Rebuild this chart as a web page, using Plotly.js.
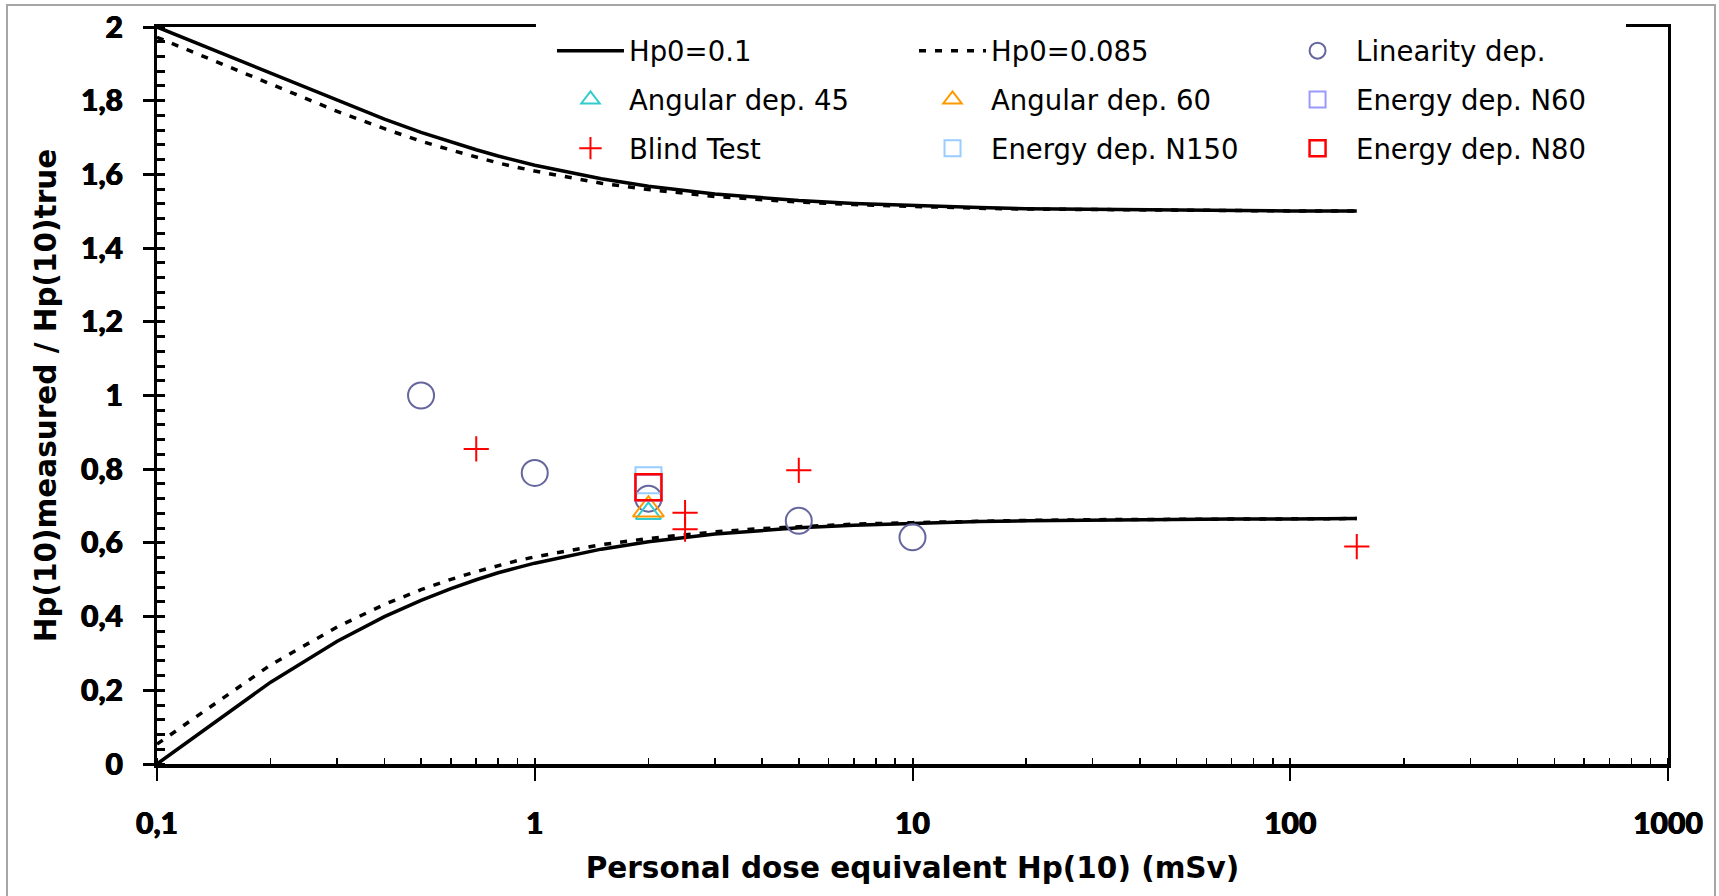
<!DOCTYPE html>
<html>
<head>
<meta charset="utf-8">
<script src="https://cdn.plot.ly/plotly-3.0.1.min.js"></script>
<style>
  html, body { margin: 0; padding: 0; background: #ffffff; overflow: hidden; }
  #chart { width: 1719px; height: 896px; position: absolute; left: 0; top: 0; }
  #frame { position: absolute; left: 6px; top: 4px; width: 1706px; height: 1000px;
           border: 2px solid #a6a6a6; pointer-events: none; }
</style>
</head>
<body>
<div id="chart"></div>
<div id="frame"></div>
<script>
// ---- data ----
const doseGrid = [0.1, 0.2, 0.3, 0.4, 0.5, 0.6, 0.7, 0.8, 0.9, 1, 1.5, 2, 3, 4, 5, 7, 10, 15, 20, 30, 50, 70, 100, 150];

const upperHp01  = [2.000, 1.875, 1.800, 1.750, 1.714, 1.688, 1.667, 1.650, 1.636, 1.625, 1.588, 1.568, 1.547, 1.536, 1.529, 1.521, 1.515, 1.510, 1.507, 1.505, 1.503, 1.502, 1.501, 1.501];
const lowerHp01  = [0.000, 0.222, 0.333, 0.400, 0.444, 0.476, 0.500, 0.519, 0.533, 0.545, 0.583, 0.603, 0.624, 0.634, 0.641, 0.648, 0.653, 0.658, 0.660, 0.662, 0.664, 0.665, 0.665, 0.666];
const upperHp085 = [1.972, 1.845, 1.771, 1.724, 1.690, 1.666, 1.647, 1.631, 1.619, 1.609, 1.576, 1.559, 1.540, 1.531, 1.525, 1.518, 1.513, 1.508, 1.506, 1.504, 1.503, 1.502, 1.501, 1.501];
const lowerHp085 = [0.054, 0.269, 0.372, 0.433, 0.473, 0.501, 0.522, 0.539, 0.552, 0.562, 0.595, 0.612, 0.630, 0.639, 0.644, 0.651, 0.655, 0.659, 0.661, 0.663, 0.664, 0.665, 0.666, 0.666];

const linearityX = [0.5, 1, 2, 5, 10];
const linearityY = [1.00, 0.79, 0.72, 0.66, 0.615];
const angular45X = [2];
const angular45Y = [0.68];
const angular60X = [2];
const angular60Y = [0.69];
const energyN60X = [2];
const energyN60Y = [0.75];
const blindX = [0.7, 2.5, 2.5, 5, 150];
const blindY = [0.855, 0.682, 0.637, 0.797, 0.59];
const energyN150X = [2];
const energyN150Y = [0.77];
const energyN80X = [2];
const energyN80Y = [0.751];

const xTickVals = [0.1, 1, 10, 100, 1000];
const xTickText = ['0,1', '1', '10', '100', '1000'];
const yTickVals = [0, 0.2, 0.4, 0.6, 0.8, 1, 1.2, 1.4, 1.6, 1.8, 2];
const yTickText = ['0', '0,2', '0,4', '0,6', '0,8', '1', '1,2', '1,4', '1,6', '1,8', '2'];

// ---- traces ----
const band = (up, lo) => ({ x: doseGrid.concat([null], doseGrid), y: up.concat([null], lo) });
const b1 = band(upperHp01, lowerHp01);
const b2 = band(upperHp085, lowerHp085);

function pts(name, x, y, symbol, color, size, lw, legend, grp) {
  return { type: 'scatter', mode: 'markers', name: name, x: x, y: y,
    legend: legend, legendgroup: grp, hoverinfo: 'x+y+name',
    marker: { symbol: symbol, color: color, size: size, line: { color: color, width: lw } } };
}

const traces = [
  { type: 'scatter', mode: 'lines', name: 'Hp0=0.1', x: b1.x, y: b1.y, connectgaps: false,
    legend: 'legend', legendgroup: 'g1', line: { color: '#000000', width: 3.5 } },
  { type: 'scatter', mode: 'lines', name: 'Hp0=0.085', x: b2.x, y: b2.y, connectgaps: false,
    legend: 'legend2', legendgroup: 'g2', line: { color: '#000000', width: 3.5, dash: '7px,9px' } },
  pts('Linearity dep.', linearityX, linearityY, 'circle-open', '#66669e', 26, 2, 'legend3', 'g3'),
  pts('Angular dep. 45', angular45X, angular45Y, 'triangle-up-open', '#33cccc', 22, 2, 'legend', 'g4'),
  pts('Angular dep. 60', angular60X, angular60Y, 'triangle-up-open', '#ff9900', 27, 2, 'legend2', 'g5'),
  pts('Energy dep. N60', energyN60X, energyN60Y, 'square-open', '#9999ff', 26, 2, 'legend3', 'g6'),
  pts('Blind Test', blindX, blindY, 'cross-thin-open', '#ff0000', 18, 2, 'legend', 'g7'),
  pts('Energy dep. N150', energyN150X, energyN150Y, 'square-open', '#99ccff', 26, 2, 'legend2', 'g8'),
  pts('Energy dep. N80', energyN80X, energyN80Y, 'square-open', '#ff0000', 26, 2.5, 'legend3', 'g9'),
  { type: 'scatter', mode: 'markers', x: [], y: [], xaxis: 'x2', yaxis: 'y2', showlegend: false, hoverinfo: 'skip' }
];

const legendFont = { family: 'DejaVu Sans', size: 27.5, color: '#000000' };
function legendAt(x) {
  return { x: x, y: 1.001, xanchor: 'left', yanchor: 'top', orientation: 'v',
    traceorder: 'grouped', tracegroupgap: 10, itemwidth: 67, font: legendFont,
    bgcolor: 'rgba(255,255,255,0)', borderwidth: 0 };
}

const tickFont = { family: 'Lato', size: 30, color: '#000000', weight: 900,
  shadow: '0.5px 0 0 #000000, -0.5px 0 0 #000000' };
const titleFont = { family: 'DejaVu Sans', size: 29.5, color: '#000000', weight: 'bold' };

const layout = {
  width: 1719, height: 896,
  margin: { l: 157, r: 51, t: 27, b: 132 },
  paper_bgcolor: '#ffffff', plot_bgcolor: '#ffffff',
  showlegend: true,
  legend: legendAt(0.2614),
  legend2: legendAt(0.501),
  legend3: legendAt(0.7426),
  xaxis: {
    type: 'log', range: [-1, 3], tickvals: xTickVals, ticktext: xTickText,
    ticks: 'outside', ticklen: 13, tickwidth: 2, tickcolor: '#000000',
    minor: { dtick: 'D1', ticks: 'inside', ticklen: 6, tickwidth: 1.5, tickcolor: '#000000', showgrid: false },
    showline: true, linewidth: 3.5, linecolor: '#000000', mirror: true,
    showgrid: false, zeroline: false, tickfont: tickFont, ticklabelstandoff: 17,
    title: { text: 'Personal dose equivalent Hp(10) (mSv)', font: titleFont, standoff: 20 },
    automargin: false
  },
  yaxis: {
    range: [0, 2], tickvals: yTickVals, ticktext: yTickText,
    ticks: 'outside', ticklen: 11, tickwidth: 3, tickcolor: '#000000',
    minor: { dtick: 0.04, ticks: 'inside', ticklen: 8, tickwidth: 3, tickcolor: '#000000', showgrid: false },
    showline: true, linewidth: 3, linecolor: '#000000', mirror: true,
    showgrid: false, zeroline: false, tickfont: tickFont, ticklabelstandoff: 14,
    title: { text: 'Hp(10)measured / Hp(10)true', font: titleFont, standoff: 16 },
    automargin: false
  },
  xaxis2: {
    type: 'log', range: [-1, 3], overlaying: 'x', anchor: 'y2', side: 'bottom',
    tickvals: xTickVals, ticks: 'inside', ticklen: 6, tickwidth: 2, tickcolor: '#000000',
    showticklabels: false, showline: false, showgrid: false, zeroline: false
  },
  yaxis2: {
    range: [0, 2], overlaying: 'y', anchor: 'x2', side: 'left',
    tickvals: yTickVals, ticks: 'inside', ticklen: 8, tickwidth: 3, tickcolor: '#000000',
    showticklabels: false, showline: false, showgrid: false, zeroline: false
  },
  shapes: [
    { type: 'rect', layer: 'above', xref: 'paper', yref: 'paper',
      x0: 0.2508, x1: 0.9722, y0: 0.985, y1: 1.02,
      fillcolor: '#ffffff', line: { width: 0 } }
  ]
};

Plotly.newPlot('chart', traces, layout, { staticPlot: true, displayModeBar: false });
</script>
</body>
</html>
